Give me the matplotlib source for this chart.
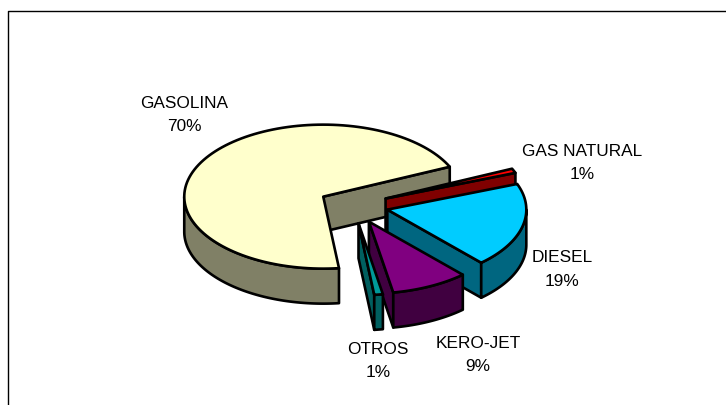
# -*- coding: utf-8 -*-
"""Exploded 3D-look pie of fuel shares, drawn with polygons on a pixel-sized axes."""
import numpy as np
import matplotlib
matplotlib.use("Agg")
import matplotlib.pyplot as plt
from matplotlib.patches import Polygon

plt.rcParams["font.family"] = ["Liberation Sans", "DejaVu Sans"]

# data, clockwise from the start angle
labels = ["GAS NATURAL", "DIESEL", "KERO-JET", "OTROS", "GASOLINA"]
shares = [1, 19, 9, 1, 70]

# slice colours
top_colors = ["#FF0000", "#00CCFF", "#800080", "#009999", "#FFFFCC"]
side_colors = ["#800000", "#006680", "#400040", "#005F5F", "#808066"]

# label centres in pixels (name line; the percent sits below it)
label_x = [582, 562, 478, 378, 184]
label_y = [151, 258, 343, 349, 103]
LINE_GAP = 23.5

# pie geometry in pixels
CX, CY = 353.5, 205.5
RX, RY = 139, 72
DEPTH = 35
EXPLODE = 0.25
START = 24.5
LW = 1.9


def arc(t1, t2, cx, cy, dy=0.0):
    # t1 -> t2 in degrees, y axis points down on screen
    t = np.radians(np.linspace(t1, t2, 120))
    return np.column_stack([cx + RX * np.cos(t), cy - RY * np.sin(t) + dy])


def draw_slice(ax, hi, lo, top, side):
    """hi/lo are the ccw end and ccw start angle of the slice."""
    mid = np.radians((hi + lo) / 2)
    ax_x = CX + EXPLODE * RX * np.cos(mid)
    ax_y = CY - EXPLODE * RY * np.sin(mid)
    style = dict(edgecolor="black", linewidth=LW, joinstyle="round")

    # radial faces that look towards the viewer
    for ang, visible in ((lo, np.cos(np.radians(lo)) > 0), (hi, np.cos(np.radians(hi)) < 0)):
        if visible:
            a = np.radians(ang)
            ex, ey = ax_x + RX * np.cos(a), ax_y - RY * np.sin(a)
            ax.add_patch(Polygon([(ax_x, ax_y), (ex, ey), (ex, ey + DEPTH), (ax_x, ax_y + DEPTH)],
                                 facecolor=side, **style))

    # outer wall, only the front half of the ellipse shows
    for k in (-1, 0):
        a1, a2 = max(lo, 180 + 360 * k), min(hi, 360 + 360 * k)
        if a2 > a1:
            upper = arc(a1, a2, ax_x, ax_y)
            lower = arc(a2, a1, ax_x, ax_y, DEPTH)
            ax.add_patch(Polygon(np.vstack([upper, lower]), facecolor=side, **style))

    # top surface
    pts = np.vstack([[(ax_x, ax_y)], arc(lo, hi, ax_x, ax_y)])
    ax.add_patch(Polygon(pts, facecolor=top, **style))


fig = plt.figure(figsize=(7.26, 4.05), dpi=100, facecolor="white")
ax = fig.add_axes([0, 0, 1, 1])
ax.set_xlim(0, 726)
ax.set_ylim(405, 0)
ax.axis("off")

# chart frame, runs off the right and bottom of the picture
ax.plot([8, 8, 726], [405, 11, 11], color="black", lw=1.0)

spans = np.array(shares) / sum(shares) * 360
ends = START - np.cumsum(spans)
starts = ends + spans

# gasolina at the back first, the small slices on top of it
for i in [4, 0, 1, 2, 3]:
    draw_slice(ax, starts[i], ends[i], top_colors[i], side_colors[i])

for name, share, x, y in zip(labels, shares, label_x, label_y):
    ax.text(x, y, name, ha="center", va="center", fontsize=12.4, color="black")
    ax.text(x, y + LINE_GAP, f"{share}%", ha="center", va="center", fontsize=12.4, color="black")

fig.savefig("out.png", dpi=100, facecolor="white")
